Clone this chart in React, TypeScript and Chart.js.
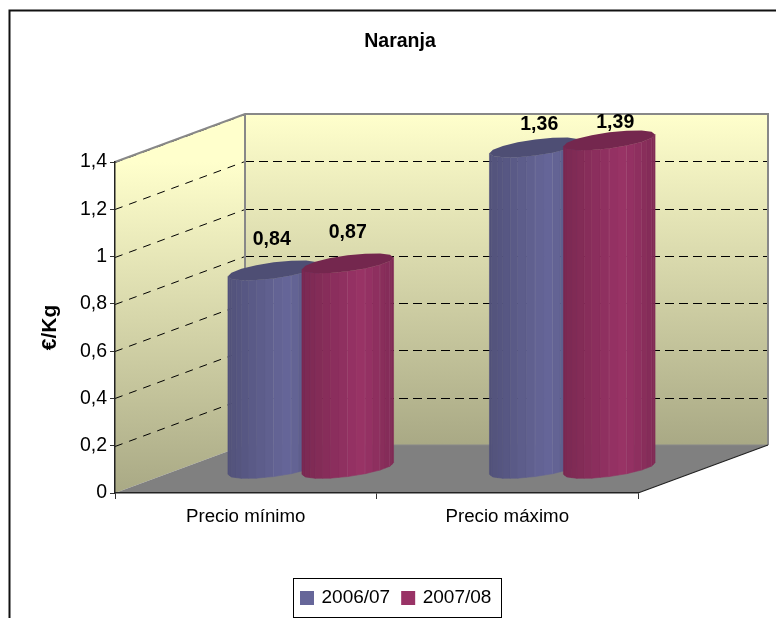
import React, { useEffect, useRef } from "react";
import { Chart, registerables, BarController, BarElement } from "chart.js";

const categories = ["Precio mínimo", "Precio máximo"];
const seriesNames = ["2006/07", "2007/08"];
const values2006 = [0.84, 1.36];
const values2007 = [0.87, 1.39];
const yTickLabels = ["0", "0,2", "0,4", "0,6", "0,8", "1", "1,2", "1,4"];

const BLUE = "#666699";
const RED = "#993366";
const FONT = "'Liberation Sans', Arial, sans-serif";

// projection of the chart's depth axis on the screen
const WALL_DX = 130;
const WALL_DY = -48;
const BAR_DEPTH = 0.415;
const LABEL_SHIFT = [
  [{ x: -2, y: -31 }, { x: 4, y: -23 }],
  [{ x: 0, y: -31 }, { x: 6, y: -18 }],
];

function shade(hex: string, f: number) {
  const n = parseInt(hex.slice(1), 16);
  const c = (v: number) => Math.min(255, Math.round(v * f));
  return `rgb(${c((n >> 16) & 255)},${c((n >> 8) & 255)},${c(n & 255)})`;
}

class CylinderBar extends BarElement {
  static id = "cylinderBar";
  draw(ctx: CanvasRenderingContext2D) {
    const self = this as any;
    const color: string = self.options.backgroundColor;
    const a = self.width / 2;
    const b = (WALL_DX * BAR_DEPTH) / 2;
    const c = (-WALL_DY * BAR_DEPTH) / 2;
    const cx = self.x + WALL_DX / 2;
    const topY = self.y + WALL_DY / 2;
    const baseY = self.base + WALL_DY / 2;
    const half = Math.hypot(a, b);
    const pt = (t: number, cy: number): [number, number] => [
      cx + a * Math.cos(t) + b * Math.sin(t),
      cy - c * Math.sin(t),
    ];
    const t0 = Math.PI + Math.atan2(b, a);
    const N = 8;
    const SUB = 2;
    ctx.save();
    for (let i = 0; i < N; i++) {
      const [x1, y1t] = pt(t0 + (Math.PI * i) / N, topY);
      const [x2, y2t] = pt(t0 + (Math.PI * (i + 1)) / N, topY);
      const [, y1b] = pt(t0 + (Math.PI * i) / N, baseY);
      const [, y2b] = pt(t0 + (Math.PI * (i + 1)) / N, baseY);
      for (let j = 0; j < SUB; j++) {
        const u1 = j / SUB;
        const u2 = (j + 1) / SUB;
        const mid = x1 + (x2 - x1) * ((u1 + u2) / 2);
        const s = Math.max(0, Math.min(1, (mid - (cx - half)) / (2 * half)));
        const f = s < 0.66 ? 0.8 + (0.2 * s) / 0.66 : 1 - (0.16 * (s - 0.66)) / 0.34;
        const col = shade(color, f);
        ctx.fillStyle = col;
        ctx.strokeStyle = col;
        ctx.lineWidth = 0.6;
        ctx.beginPath();
        ctx.moveTo(x1 + (x2 - x1) * u1, y1t + (y2t - y1t) * u1);
        ctx.lineTo(x1 + (x2 - x1) * u2, y1t + (y2t - y1t) * u2);
        ctx.lineTo(x1 + (x2 - x1) * u2, y1b + (y2b - y1b) * u2);
        ctx.lineTo(x1 + (x2 - x1) * u1, y1b + (y2b - y1b) * u1);
        ctx.closePath();
        ctx.fill();
        ctx.stroke();
      }
      if (i >= 3 && i < N - 1) {
        ctx.strokeStyle = "rgba(255,255,255,0.2)";
        ctx.lineWidth = 1;
        ctx.beginPath();
        ctx.moveTo(x2, y2t);
        ctx.lineTo(x2, y2b);
        ctx.stroke();
      }
    }
    ctx.fillStyle = shade(color, 0.76);
    ctx.beginPath();
    for (let i = 0; i < 2 * N; i++) {
      const [px, py] = pt(t0 + (Math.PI * i) / N, topY);
      if (i === 0) ctx.moveTo(px, py);
      else ctx.lineTo(px, py);
    }
    ctx.closePath();
    ctx.fill();
    ctx.restore();
  }
}

class CylinderController extends BarController {
  static id = "cylinder";
  static defaults = { dataElementType: "cylinderBar" };
}

const scene = {
  id: "scene3d",
  beforeDraw(chart: any) {
    const { ctx } = chart;
    const xs = chart.scales.x;
    const ys = chart.scales.y;
    const L = xs.left;
    const R = xs.right;
    const B = ys.getPixelForValue(0);
    const T = ys.getPixelForValue(1.4);
    const dx = WALL_DX;
    const dy = WALL_DY;
    ctx.save();
    // back wall
    const g1 = ctx.createLinearGradient(0, T + dy, 0, B + dy);
    g1.addColorStop(0, "#FFFFCC");
    g1.addColorStop(1, "#A9A985");
    ctx.fillStyle = g1;
    ctx.fillRect(L + dx, T + dy, R - L, B - T);
    // side wall
    const g2 = ctx.createLinearGradient(0, T, 0, B);
    g2.addColorStop(0, "#FFFFCC");
    g2.addColorStop(1, "#A9A985");
    ctx.fillStyle = g2;
    ctx.beginPath();
    ctx.moveTo(L, T);
    ctx.lineTo(L + dx, T + dy);
    ctx.lineTo(L + dx, B + dy);
    ctx.lineTo(L, B);
    ctx.closePath();
    ctx.fill();
    // floor
    ctx.fillStyle = "#808080";
    ctx.beginPath();
    ctx.moveTo(L, B);
    ctx.lineTo(R, B);
    ctx.lineTo(R + dx, B + dy);
    ctx.lineTo(L + dx, B + dy);
    ctx.closePath();
    ctx.fill();
    // dashed gridlines
    ctx.strokeStyle = "#000";
    ctx.lineWidth = 1;
    ys.ticks.forEach((tick: any) => {
      if (tick.value === 0) return;
      const y = Math.round(ys.getPixelForValue(tick.value)) + 0.5;
      ctx.setLineDash([8, 7]);
      ctx.beginPath();
      ctx.moveTo(L, y);
      ctx.lineTo(L + dx, y + dy);
      ctx.stroke();
      ctx.setLineDash([9, 5]);
      ctx.beginPath();
      ctx.moveTo(L + dx, y + dy);
      ctx.lineTo(R + dx, y + dy);
      ctx.stroke();
    });
    ctx.setLineDash([]);
    // wall borders
    ctx.strokeStyle = "#888888";
    ctx.lineWidth = 2;
    ctx.beginPath();
    ctx.moveTo(L, T);
    ctx.lineTo(L + dx, T + dy);
    ctx.lineTo(R + dx, T + dy);
    ctx.lineTo(R + dx, B + dy);
    ctx.moveTo(L + dx, T + dy);
    ctx.lineTo(L + dx, B + dy);
    ctx.stroke();
    ctx.lineWidth = 1;
    ctx.beginPath();
    ctx.moveTo(L + dx, B + dy);
    ctx.lineTo(R + dx, B + dy);
    ctx.stroke();
    // floor right edge
    ctx.strokeStyle = "#222";
    ctx.lineWidth = 1.2;
    ctx.beginPath();
    ctx.moveTo(R, B);
    ctx.lineTo(R + dx, B + dy);
    ctx.stroke();
    ctx.restore();
  },
  afterLayout(chart: any) {
    // title and legend sit where the reference has them, not where the layout boxes would
    const t = chart.titleBlock;
    t.left = 24;
    t.right = 776;
    const lg = chart.legend;
    const w = lg.right - lg.left;
    lg.left = 289;
    lg.right = 289 + w;
    lg.top = 575.5;
  },
  beforeDatasetDraw() {
    return false;
  },
  afterDatasetsDraw(chart: any) {
    const { ctx } = chart;
    chart.data.datasets.forEach((_: any, i: number) => chart.getDatasetMeta(i).controller.draw());
    ctx.save();
    ctx.fillStyle = "#000";
    ctx.font = `bold 19.5px ${FONT}`;
    ctx.textAlign = "center";
    ctx.textBaseline = "middle";
    chart.data.datasets.forEach((ds: any, i: number) => {
      chart.getDatasetMeta(i).data.forEach((el: any, j: number) => {
        const s = LABEL_SHIFT[i][j];
        ctx.fillText(
          String(ds.data[j]).replace(".", ","),
          el.x + WALL_DX / 2 + s.x,
          el.y + WALL_DY / 2 + s.y,
        );
      });
    });
    ctx.restore();
  },
  afterDraw(chart: any) {
    const { ctx } = chart;
    ctx.save();
    // chart frame: only the top and left edges fall inside the picture
    ctx.strokeStyle = "#111";
    ctx.lineWidth = 2;
    ctx.beginPath();
    ctx.moveTo(9.5, 618);
    ctx.lineTo(9.5, 10.5);
    ctx.lineTo(776, 10.5);
    ctx.stroke();
    // legend frame
    ctx.lineWidth = 1;
    ctx.strokeStyle = "#000";
    ctx.strokeRect(293.5, 578.5, 208, 39);
    ctx.restore();
  },
};

Chart.register(...registerables, CylinderBar as any, CylinderController as any);

export default function App() {
  const ref = useRef<HTMLCanvasElement>(null);
  useEffect(() => {
    const chart = new Chart(ref.current as HTMLCanvasElement, {
      type: "cylinder" as any,
      data: {
        labels: categories,
        datasets: [
          { label: seriesNames[0], data: values2006, backgroundColor: BLUE },
          { label: seriesNames[1], data: values2007, backgroundColor: RED },
        ],
      },
      plugins: [scene as any],
      options: {
        responsive: false,
        animation: false,
        events: [],
        layout: { padding: { left: 0, right: 138, top: 0, bottom: 0 } },
        datasets: {
          cylinder: { categoryPercentage: 148 / 261.5, barPercentage: 1 },
        } as any,
        plugins: {
          tooltip: { enabled: false },
          title: {
            display: true,
            text: "Naranja",
            color: "#000",
            font: { family: FONT, size: 19.5, weight: "bold" },
            padding: { top: 30.3, bottom: 108.3 },
          },
          legend: {
            display: true,
            position: "bottom",
            align: "start",
            labels: {
              color: "#000",
              font: { family: FONT, size: 19 },
              boxWidth: 10,
              boxHeight: 10,
              padding: 13,
              generateLabels: (c: any) =>
                c.data.datasets.map((d: any, i: number) => ({
                  text: d.label,
                  fillStyle: d.backgroundColor,
                  strokeStyle: d.backgroundColor,
                  lineWidth: 4,
                  datasetIndex: i,
                })),
            },
          },
        },
        scales: {
          x: {
            type: "category",
            offset: true,
            grid: { offset: true, drawOnChartArea: false, tickLength: 6, color: "#333" },
            border: { color: "#222", width: 1.5 },
            ticks: {
              color: "#000",
              font: { family: FONT, size: 18.7 },
              padding: 7,
              maxRotation: 0,
              autoSkip: false,
            },
            afterFit: (s: any) => {
              s.height = 83;
            },
          },
          y: {
            min: 0,
            max: 1.4,
            grid: { drawOnChartArea: false, tickLength: 5, color: "#333" },
            border: { color: "#222", width: 1.5 },
            ticks: {
              stepSize: 0.2,
              color: "#000",
              font: { family: FONT, size: 19.5 },
              padding: 3,
              callback: (_v: any, i: number) => yTickLabels[i],
            },
            title: {
              display: true,
              text: "€/Kg",
              color: "#000",
              font: { family: FONT, size: 21, weight: "bold" },
              padding: { top: 38, bottom: 0 },
            },
            afterFit: (s: any) => {
              s.width = 115;
            },
          },
        },
      } as any,
    });
    return () => chart.destroy();
  }, []);
  return (
    <canvas
      ref={ref}
      width={776}
      height={618}
      style={{ position: "fixed", left: 0, top: 0, width: 776, height: 618, display: "block" }}
    />
  );
}
